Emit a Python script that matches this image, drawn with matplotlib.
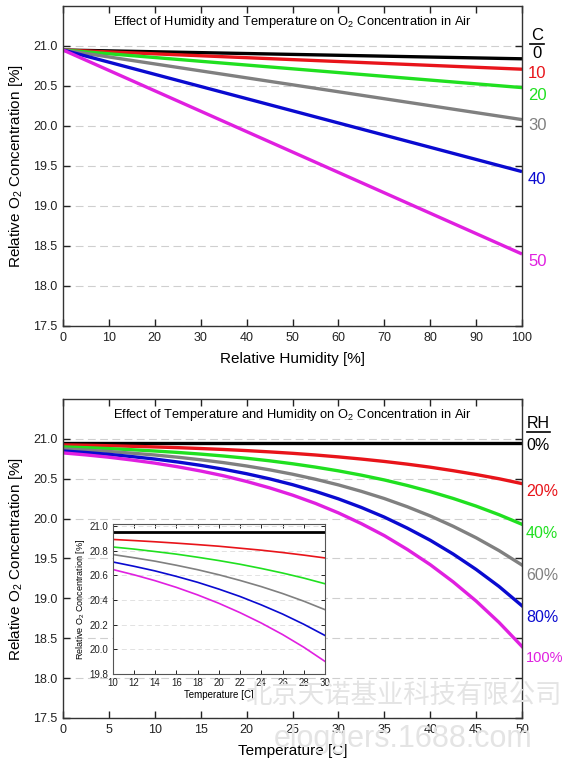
import matplotlib
matplotlib.use("Agg")
import matplotlib.pyplot as plt
from matplotlib.lines import Line2D

plt.rcParams['font.family'] = ['Liberation Sans', 'Noto Sans CJK SC', 'DejaVu Sans']
plt.rcParams['mathtext.fontset'] = 'custom'
plt.rcParams['mathtext.rm'] = 'Liberation Sans'
plt.rcParams['mathtext.it'] = 'Liberation Sans'

# ---------------- data ----------------
colors = ['#000000', '#e8141a', '#20e020', '#808080', '#0a0ad0', '#e020e0']

# Top: O2 vs relative humidity for several temperatures (straight lines)
rh = [0, 100]
temp_labels = ['0', '10', '20', '30', '40', '50']
o2_t0 = [20.95, 20.84]
o2_t10 = [20.95, 20.71]
o2_t20 = [20.95, 20.48]
o2_t30 = [20.95, 20.08]
o2_t40 = [20.95, 19.43]
o2_t50 = [20.95, 18.40]
top_series = [o2_t0, o2_t10, o2_t20, o2_t30, o2_t40, o2_t50]

# Bottom: O2 vs temperature for several RH levels
temp = [0, 2.5, 5, 7.5, 10, 12.5, 15, 17.5, 20, 22.5, 25,
        27.5, 30, 32.5, 35, 37.5, 40, 42.5, 45, 47.5, 50]
rh_labels = ['0%', '20%', '40%', '60%', '80%', '100%']
o2_rh0 = [20.95] * 21
o2_rh20 = [20.925, 20.920, 20.914, 20.907, 20.899, 20.890, 20.879, 20.867, 20.853, 20.837, 20.819,
           20.798, 20.774, 20.747, 20.717, 20.683, 20.645, 20.601, 20.553, 20.500, 20.439]
o2_rh40 = [20.899, 20.890, 20.878, 20.864, 20.848, 20.830, 20.809, 20.785, 20.757, 20.725, 20.688,
           20.646, 20.599, 20.545, 20.485, 20.416, 20.339, 20.253, 20.157, 20.049, 19.929]
o2_rh60 = [20.874, 20.859, 20.842, 20.821, 20.798, 20.770, 20.738, 20.702, 20.660, 20.612, 20.557,
           20.494, 20.423, 20.342, 20.252, 20.149, 20.034, 19.904, 19.760, 19.599, 19.418]
o2_rh80 = [20.849, 20.829, 20.806, 20.778, 20.747, 20.710, 20.668, 20.619, 20.563, 20.499, 20.426,
           20.342, 20.248, 20.140, 20.019, 19.881, 19.729, 19.556, 19.363, 19.149, 18.907]
o2_rh100 = [20.824, 20.799, 20.770, 20.735, 20.696, 20.650, 20.597, 20.537, 20.466, 20.386, 20.295,
            20.191, 20.072, 19.937, 19.787, 19.614, 19.423, 19.207, 18.967, 18.698, 18.397]
bottom_series = [o2_rh0, o2_rh20, o2_rh40, o2_rh60, o2_rh80, o2_rh100]

# Inset: zoom on 10-30 C
temp_in = [10, 12, 14, 16, 18, 20, 22, 24, 26, 28, 30]
in_rh0 = [20.95] * 11
in_rh20 = [20.890, 20.881, 20.871, 20.860, 20.848, 20.835, 20.819, 20.803, 20.784, 20.763, 20.740]
in_rh40 = [20.829, 20.812, 20.792, 20.771, 20.746, 20.719, 20.689, 20.655, 20.618, 20.577, 20.531]
in_rh60 = [20.768, 20.742, 20.714, 20.681, 20.645, 20.604, 20.558, 20.508, 20.452, 20.390, 20.321]
in_rh80 = [20.708, 20.673, 20.635, 20.591, 20.543, 20.488, 20.428, 20.360, 20.286, 20.203, 20.112]
in_rh100 = [20.647, 20.604, 20.556, 20.502, 20.441, 20.373, 20.297, 20.213, 20.120, 20.017, 19.902]
inset_series = [in_rh0, in_rh20, in_rh40, in_rh60, in_rh80, in_rh100]

y_ticks = [17.5, 18.0, 18.5, 19.0, 19.5, 20.0, 20.5, 21.0]

# ---------------- figure ----------------
W, H = 568, 770
fig = plt.figure(figsize=(W / 100, H / 100), dpi=100)

def fx(px):
    return px / W

def fy(py):
    return 1 - py / H

def style_axes(ax, fs=9):
    for s in ax.spines.values():
        s.set_color('#333333')
        s.set_linewidth(1.0)
    ax.tick_params(direction='in', top=True, right=True, length=5, width=1,
                   labelsize=fs, colors='#222222', pad=4)
    ax.yaxis.grid(True, linestyle=(0, (7, 4)), color='#cfcfcf', linewidth=0.8)
    ax.set_axisbelow(True)

ylabel = 'Relative O$_2$ Concentration [%]'

# Top axes
ax1 = fig.add_axes([fx(63), fy(326), fx(522 - 63), (326 - 6) / H])
for ser, c in zip(top_series, colors):
    ax1.plot(rh, ser, color=c, lw=2.4, solid_capstyle='butt')
ax1.set_xlim(0, 100)
ax1.set_ylim(17.5, 21.5)
ax1.set_xticks(range(0, 101, 10))
ax1.set_yticks(y_ticks)
ax1.set_yticklabels([f'{v:.1f}' for v in y_ticks])
style_axes(ax1)
ax1.set_xlabel('Relative Humidity [%]', fontsize=11, labelpad=6)
ax1.set_ylabel(ylabel, fontsize=11, labelpad=6)
ax1.text(0.5, 0.95, 'Effect of Humidity and Temperature on O$_2$ Concentration in Air',
         transform=ax1.transAxes, ha='center', va='center', fontsize=9.3)

# Right labels for top chart
top_label_y = [54, 73, 95, 126, 180, 262]
fig.text(fx(537), fy(35), 'C', ha='center', va='center', fontsize=12)
fig.add_artist(Line2D([fx(530), fx(544)], [fy(44), fy(44)], color='black', lw=1.2))
for lab, c, yy in zip(temp_labels, colors, top_label_y):
    ha = 'center' if lab == '0' else 'left'
    xx = 537 if lab == '0' else 528
    fig.text(fx(xx), fy(yy), lab, color=c, ha=ha, va='center', fontsize=12)

# Bottom axes
ax2 = fig.add_axes([fx(63), fy(718), fx(522 - 63), (718 - 399) / H])
for ser, c in zip(bottom_series, colors):
    ax2.plot(temp, ser, color=c, lw=2.4)
ax2.set_xlim(0, 50)
ax2.set_ylim(17.5, 21.5)
ax2.set_xticks(range(0, 51, 5))
ax2.set_yticks(y_ticks)
ax2.set_yticklabels([f'{v:.1f}' for v in y_ticks])
style_axes(ax2)
ax2.set_xlabel('Temperature [C]', fontsize=11, labelpad=6)
ax2.set_ylabel(ylabel, fontsize=11, labelpad=6)
ax2.text(0.5, 0.95, 'Effect of Temperature and Humidity on O$_2$ Concentration in Air',
         transform=ax2.transAxes, ha='center', va='center', fontsize=9.3)

bot_label_y = [445, 492, 533, 575, 618, 658]
fig.text(fx(538), fy(423), 'RH', ha='center', va='center', fontsize=11.5)
fig.add_artist(Line2D([fx(527), fx(550)], [fy(432), fy(432)], color='black', lw=1.2))
for lab, c, yy in zip(rh_labels, colors, bot_label_y):
    fig.text(fx(526), fy(yy), lab, color=c, ha='left', va='center',
             fontsize=10.5 if lab == '100%' else 11.5)

# Inset
ax3 = fig.add_axes([fx(112.5), fy(674), fx(325 - 112.5), (674 - 524) / H])
ax3.set_facecolor('white')
for i, (ser, c) in enumerate(zip(inset_series, colors)):
    ax3.plot(temp_in, ser, color=c, lw=2.0 if i == 0 else 1.2)
ax3.set_xlim(10, 30)
ax3.set_ylim(19.8, 21.015)
ax3.set_xticks(range(10, 31, 2))
in_yt = [19.8, 20.0, 20.2, 20.4, 20.6, 20.8, 21.0]
ax3.set_yticks(in_yt)
ax3.set_yticklabels([f'{v:.1f}' for v in in_yt])
for s in ax3.spines.values():
    s.set_color('#555555')
    s.set_linewidth(0.8)
ax3.tick_params(direction='in', top=True, right=True, length=3, width=0.7,
                labelsize=7, colors='#222222', pad=3)
ax3.yaxis.grid(True, linestyle=(0, (6, 4)), color='#dddddd', linewidth=0.6)
ax3.set_axisbelow(True)
ax3.set_xlabel('Temperature [C]', fontsize=7, labelpad=1)
ax3.set_ylabel(ylabel, fontsize=6.5, labelpad=2)

# Watermark
fig.text(fx(403), fy(695), '北京天诺基业科技有限公司', ha='center', va='center',
         fontsize=19, color='#e4e4e4', family=['Noto Sans CJK SC', 'DejaVu Sans'],
         zorder=10)
fig.text(fx(403), fy(739), 'eloggers.1688.com', ha='center', va='center',
         fontsize=22, color='#e4e4e4', zorder=10)

fig.savefig('out.png', dpi=100, facecolor='white')
